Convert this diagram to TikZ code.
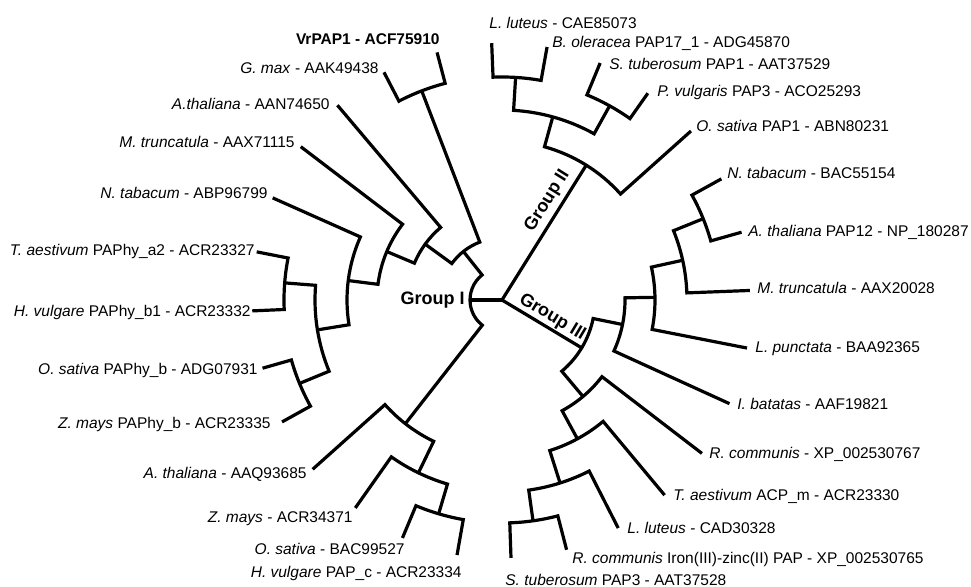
\documentclass[tikz,border=0pt]{standalone}
\usepackage{fontspec}
\setmainfont{Liberation Sans}
\usetikzlibrary{positioning}

\begin{document}
\begin{tikzpicture}[
    x=0.5pt, y=0.5pt,
    % --- STYLES ---
    branch/.style={
            line width=1.6pt,
            line join=miter,
            color=black
        },
    taxon/.style={
            font=\fontsize{7.75}{9}\selectfont,
            inner sep=0pt,
            text height=5.5pt,
            text depth=0pt
        },
    grp/.style={
            font=\bfseries\fontsize{9}{10}\selectfont,
            inner sep=2.5pt,
            text height=6.4pt,
            text depth=0pt
        }
    ]
    \useasboundingbox (0,0) rectangle (971,587);

    % --- TREE (polar, centred on the root) ---
    \begin{scope}[shift={(502,287)}]
        \coordinate (root) at (0,0);

        % Group I
        \coordinate (gI) at (180:32);
        \coordinate (n1) at (128.5:62);
        \coordinate (p1) at (111:224);
        \coordinate (n2) at (144:95);
        \coordinate (n3) at (157.2:125);
        \coordinate (n4) at (172.8:155);
        \coordinate (n5) at (189.2:187);
        \coordinate (n6) at (175.5:218);
        \coordinate (n7) at (202.4:219);
        \coordinate (m1) at (232:157);
        \coordinate (m2) at (244.2:192);
        \coordinate (m3) at (253.5:223);
        \coordinate (vr)   at (104.7:256);
        \coordinate (gmax) at (117.4:256.5);
        \coordinate (athA) at (130.2:255);
        \coordinate (mtrA) at (142.7:253);
        \coordinate (ntbA) at (156:251);
        \coordinate (taeA) at (168.9:250);
        \coordinate (hvuA) at (182.5:250);
        \coordinate (osaA) at (195.9:249);
        \coordinate (zmaA) at (209:251.5);
        \coordinate (athB) at (221.8:254);
        \coordinate (zmaB) at (234.8:254.5);
        \coordinate (osaB) at (247.3:258);
        \coordinate (hvuB) at (260:259);

        % Group II
        \coordinate (g2) at (58:159);
        \coordinate (g3) at (74.5:190);
        \coordinate (g4) at (86.5:223);
        \coordinate (g5) at (61:222);
        \coordinate (lluA) at (92.3:257);
        \coordinate (bol)  at (79.9:257);
        \coordinate (stuA) at (67.5:256.5);
        \coordinate (pvu)  at (54.8:253);
        \coordinate (osaC) at (41.8:253.5);

        % Group III
        \coordinate (h1) at (-31:93);
        \coordinate (h2) at (-11.5:123);
        \coordinate (h4) at (1:153);
        \coordinate (h5) at (12.4:185);
        \coordinate (h6) at (22:217);
        \coordinate (h3) at (-50:126);
        \coordinate (h7) at (-61.5:158);
        \coordinate (h8) at (-72.4:192);
        \coordinate (h9) at (-82:223);
        \coordinate (ntbB) at (28.9:250.6);
        \coordinate (athC) at (15.8:249);
        \coordinate (mtrB) at (2.2:248);
        \coordinate (lpu)  at (-11.1:249.7);
        \coordinate (iba)  at (-24.5:250);
        \coordinate (rcoA) at (-37.5:252);
        \coordinate (taeB) at (-50.2:254);
        \coordinate (lluB) at (-63:256);
        \coordinate (rcoB) at (-75.5:258);
        \coordinate (stuB) at (-88:258);

        % clades: child A / angle A / child B / angle B / radius of the arc
        \foreach \ca/\aa/\cb/\ab/\r in {
                n1/128.5/m1/232/32, p1/111/n2/144/62, vr/104.7/gmax/117.4/224,
                athA/130.2/n3/157.2/95, mtrA/142.7/n4/172.8/125, ntbA/156/n5/189.2/155,
                n6/175.5/n7/202.4/187, taeA/168.9/hvuA/182.5/218, osaA/195.9/zmaA/209/219,
                athB/221.8/m2/244.2/157, zmaB/234.8/m3/253.5/192, osaB/247.3/hvuB/260/223,
                g3/74.5/osaC/41.8/159, g4/86.5/g5/61/190, lluA/92.3/bol/79.9/223,
                stuA/67.5/pvu/54.8/222,
                h2/-11.5/h3/-50/93, h4/1/iba/-24.5/123, h5/12.4/lpu/-11.1/153,
                h6/22/mtrB/2.2/185, ntbB/28.9/athC/15.8/217, rcoA/-37.5/h7/-61.5/126,
                taeB/-50.2/h8/-72.4/158, lluB/-63/h9/-82/192, rcoB/-75.5/stuB/-88/223}
            \draw[branch] (\ca) -- (\aa:\r) arc[start angle=\aa, end angle=\ab, radius=\r] -- (\cb);

        % root
        \draw[branch] (root) -- (gI);
        \draw[branch] (root) -- node[grp, sloped, above, pos=0.68, inner sep=4pt] (grpII) {Group II} (g2);
        \draw[branch] (root) -- node[grp, sloped, above, pos=0.56, inner sep=2.5pt] (grpIII) {Group III} (h1);
    \end{scope}

    \node[grp, anchor=east, inner sep=0pt] (grpI) at (465,289) {Group I};

    % --- LABELS, GROUP I ---
    \node[taxon, anchor=east] (l-vr)   at (440,548) {\textbf{VrPAP1 - ACF75910}};
    \node[taxon, anchor=east] (l-gmax) at (379,519) {\textit{G. max} - AAK49438};
    \node[taxon, anchor=east] (l-athA) at (330,483) {\textit{A.thaliana} - AAN74650};
    \node[taxon, anchor=east] (l-mtrA) at (295,445) {\textit{M. truncatula} - AAX71115};
    \node[taxon, anchor=east] (l-ntbA) at (268,394) {\textit{N. tabacum} - ABP96799};
    \node[taxon, anchor=east] (l-taeA) at (255,337) {\textit{T. aestivum} PAPhy\_a2 - ACR23327};
    \node[taxon, anchor=east] (l-hvuA) at (251,276) {\textit{H. vulgare} PAPhy\_b1 - ACR23332};
    \node[taxon, anchor=east] (l-osaA) at (258,218) {\textit{O. sativa} PAPhy\_b - ADG07931};
    \node[taxon, anchor=east] (l-zmaA) at (271,164) {\textit{Z. mays} PAPhy\_b - ACR23335};
    \node[taxon, anchor=east] (l-athB) at (307,114) {\textit{A. thaliana} - AAQ93685};
    \node[taxon, anchor=east] (l-zmaB) at (353,70)  {\textit{Z. mays} - ACR34371};
    \node[taxon, anchor=east] (l-osaB) at (405,38)  {\textit{O. sativa} - BAC99527};
    \node[taxon, anchor=east] (l-hvuB) at (462,15)  {\textit{H. vulgare} PAP\_c - ACR23334};

    % --- LABELS, GROUP II ---
    \node[taxon, anchor=west] (l-lluA) at (489,564) {\textit{L. luteus} - CAE85073};
    \node[taxon, anchor=west] (l-bol)  at (552,545) {\textit{B. oleracea} PAP17\_1 - ADG45870};
    \node[taxon, anchor=west] (l-stuA) at (609,523) {\textit{S. tuberosum} PAP1 - AAT37529};
    \node[taxon, anchor=west] (l-pvu)  at (657,496) {\textit{P. vulgaris} PAP3 - ACO25293};
    \node[taxon, anchor=west] (l-osaC) at (696,461) {\textit{O. sativa} PAP1 - ABN80231};

    % --- LABELS, GROUP III ---
    \node[taxon, anchor=west] (l-ntbB) at (727,414) {\textit{N. tabacum} - BAC55154};
    \node[taxon, anchor=west] (l-athC) at (748,356) {\textit{A. thaliana} PAP12 - NP\_180287};
    \node[taxon, anchor=west] (l-mtrB) at (757,299) {\textit{M. truncatula} - AAX20028};
    \node[taxon, anchor=west] (l-lpu)  at (755,240) {\textit{L. punctata} - BAA92365};
    \node[taxon, anchor=west] (l-iba)  at (737,183) {\textit{I. batatas} - AAF19821};
    \node[taxon, anchor=west] (l-rcoA) at (709,134) {\textit{R. communis} - XP\_002530767};
    \node[taxon, anchor=west] (l-taeB) at (673,92)  {\textit{T. aestivum} ACP\_m - ACR23330};
    \node[taxon, anchor=west] (l-lluB) at (627,59)  {\textit{L. luteus} - CAD30328};
    \node[taxon, anchor=west] (l-rcoB) at (572,29)  {\textit{R. communis} Iron(III)-zinc(II) PAP - XP\_002530765};
    \node[taxon, anchor=west] (l-stuB) at (505,7)   {\textit{S. tuberosum} PAP3 - AAT37528};

\end{tikzpicture}
\end{document}
